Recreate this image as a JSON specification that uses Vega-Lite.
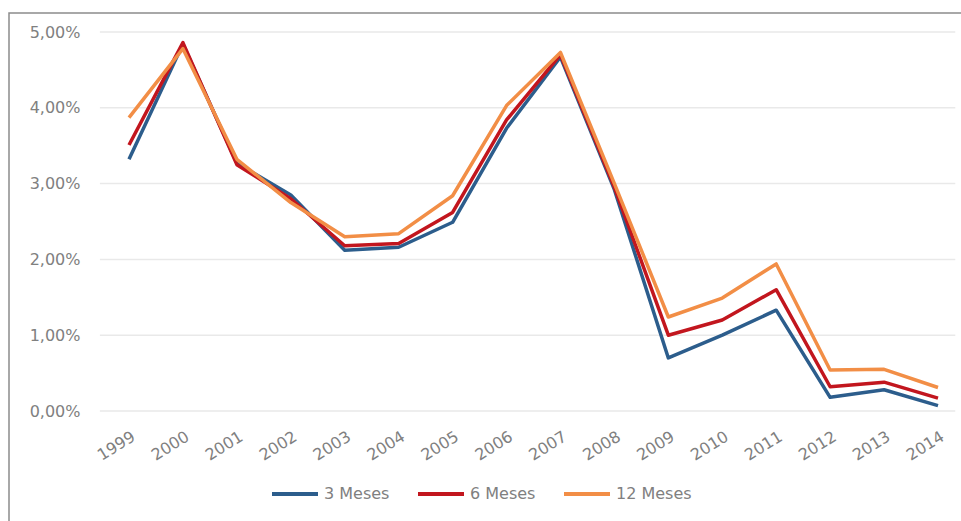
{
  "$schema": "https://vega.github.io/schema/vega-lite/v6.json",
  "autosize": "none",
  "padding": {"left": 9, "top": 13, "right": 0, "bottom": 0},
  "width": 958,
  "height": 516,
  "background": "white",
  "config": {
    "locale": {"number": {"decimal": ",", "thousands": ".", "grouping": [3], "currency": ["", " €"]}},
    "view": {"stroke": "#8c8c8c", "strokeWidth": 1.5},
    "font": "DejaVu Sans",
    "axis": {"labelFont": "DejaVu Sans", "labelFontSize": 16, "labelColor": "#808080", "domain": false, "ticks": false, "tickSize": 0, "grid": false, "title": null},
    "legend": {"labelFont": "DejaVu Sans", "labelFontSize": 16, "labelColor": "#808080"}
  },
  "layer": [
    {
      "data": {"values": [{"v": 0}, {"v": 0.01}, {"v": 0.02}, {"v": 0.03}, {"v": 0.04}, {"v": 0.05}]},
      "mark": {"type": "rule", "color": "#e9e9e9", "strokeWidth": 1.5},
      "encoding": {
        "y": {"field": "v", "type": "quantitative", "scale": {"domain": [0, 0.05], "range": [398, 19], "nice": false},
              "axis": {"orient": "left", "offset": -76, "labelPadding": 5, "values": [0, 0.01, 0.02, 0.03, 0.04, 0.05], "format": ".2%"}},
        "x": {"datum": 1998.46, "type": "quantitative", "scale": {"domain": [1999, 2014], "range": [120, 929], "nice": false, "zero": false}},
        "x2": {"datum": 2014.32}
      }
    },
    {
      "data": {"values": [
        {"ano": 1999, "serie": "3 Meses", "taxa": 0.0332},
        {"ano": 2000, "serie": "3 Meses", "taxa": 0.0484},
        {"ano": 2001, "serie": "3 Meses", "taxa": 0.0327},
        {"ano": 2002, "serie": "3 Meses", "taxa": 0.0285},
        {"ano": 2003, "serie": "3 Meses", "taxa": 0.0212},
        {"ano": 2004, "serie": "3 Meses", "taxa": 0.0216},
        {"ano": 2005, "serie": "3 Meses", "taxa": 0.0249},
        {"ano": 2006, "serie": "3 Meses", "taxa": 0.0373},
        {"ano": 2007, "serie": "3 Meses", "taxa": 0.0467},
        {"ano": 2008, "serie": "3 Meses", "taxa": 0.0292},
        {"ano": 2009, "serie": "3 Meses", "taxa": 0.0070},
        {"ano": 2010, "serie": "3 Meses", "taxa": 0.0100},
        {"ano": 2011, "serie": "3 Meses", "taxa": 0.0133},
        {"ano": 2012, "serie": "3 Meses", "taxa": 0.0018},
        {"ano": 2013, "serie": "3 Meses", "taxa": 0.0028},
        {"ano": 2014, "serie": "3 Meses", "taxa": 0.0007},
        {"ano": 1999, "serie": "6 Meses", "taxa": 0.0351},
        {"ano": 2000, "serie": "6 Meses", "taxa": 0.0486},
        {"ano": 2001, "serie": "6 Meses", "taxa": 0.0325},
        {"ano": 2002, "serie": "6 Meses", "taxa": 0.0280},
        {"ano": 2003, "serie": "6 Meses", "taxa": 0.0218},
        {"ano": 2004, "serie": "6 Meses", "taxa": 0.0221},
        {"ano": 2005, "serie": "6 Meses", "taxa": 0.0262},
        {"ano": 2006, "serie": "6 Meses", "taxa": 0.0384},
        {"ano": 2007, "serie": "6 Meses", "taxa": 0.0470},
        {"ano": 2008, "serie": "6 Meses", "taxa": 0.0295},
        {"ano": 2009, "serie": "6 Meses", "taxa": 0.0100},
        {"ano": 2010, "serie": "6 Meses", "taxa": 0.0120},
        {"ano": 2011, "serie": "6 Meses", "taxa": 0.0160},
        {"ano": 2012, "serie": "6 Meses", "taxa": 0.0032},
        {"ano": 2013, "serie": "6 Meses", "taxa": 0.0038},
        {"ano": 2014, "serie": "6 Meses", "taxa": 0.0017},
        {"ano": 1999, "serie": "12 Meses", "taxa": 0.0387},
        {"ano": 2000, "serie": "12 Meses", "taxa": 0.0478},
        {"ano": 2001, "serie": "12 Meses", "taxa": 0.0332},
        {"ano": 2002, "serie": "12 Meses", "taxa": 0.0275},
        {"ano": 2003, "serie": "12 Meses", "taxa": 0.0230},
        {"ano": 2004, "serie": "12 Meses", "taxa": 0.0234},
        {"ano": 2005, "serie": "12 Meses", "taxa": 0.0284},
        {"ano": 2006, "serie": "12 Meses", "taxa": 0.0403},
        {"ano": 2007, "serie": "12 Meses", "taxa": 0.0473},
        {"ano": 2008, "serie": "12 Meses", "taxa": 0.0300},
        {"ano": 2009, "serie": "12 Meses", "taxa": 0.0124},
        {"ano": 2010, "serie": "12 Meses", "taxa": 0.0149},
        {"ano": 2011, "serie": "12 Meses", "taxa": 0.0194},
        {"ano": 2012, "serie": "12 Meses", "taxa": 0.0054},
        {"ano": 2013, "serie": "12 Meses", "taxa": 0.0055},
        {"ano": 2014, "serie": "12 Meses", "taxa": 0.0031}
      ]},
      "mark": {"type": "line", "strokeWidth": 3.5, "strokeJoin": "round"},
      "encoding": {
        "x": {"field": "ano", "type": "quantitative",
              "axis": {"orient": "bottom", "offset": -118, "labelPadding": 17, "labelAngle": -32, "labelAlign": "right", "labelBaseline": "top",
                       "values": [1999, 2000, 2001, 2002, 2003, 2004, 2005, 2006, 2007, 2008, 2009, 2010, 2011, 2012, 2013, 2014], "format": "d"}},
        "y": {"field": "taxa", "type": "quantitative"},
        "color": {"field": "serie", "type": "nominal",
                  "scale": {"domain": ["3 Meses", "6 Meses", "12 Meses"], "range": ["#2c5d8c", "#c2161e", "#f28e46"]},
                  "legend": {"title": null, "orient": "none", "legendX": 261, "legendY": 456, "direction": "horizontal",
                             "symbolType": "stroke", "symbolSize": 2116, "symbolStrokeWidth": 4, "labelOffset": 4, "columnPadding": 20}}
      }
    }
  ]
}
